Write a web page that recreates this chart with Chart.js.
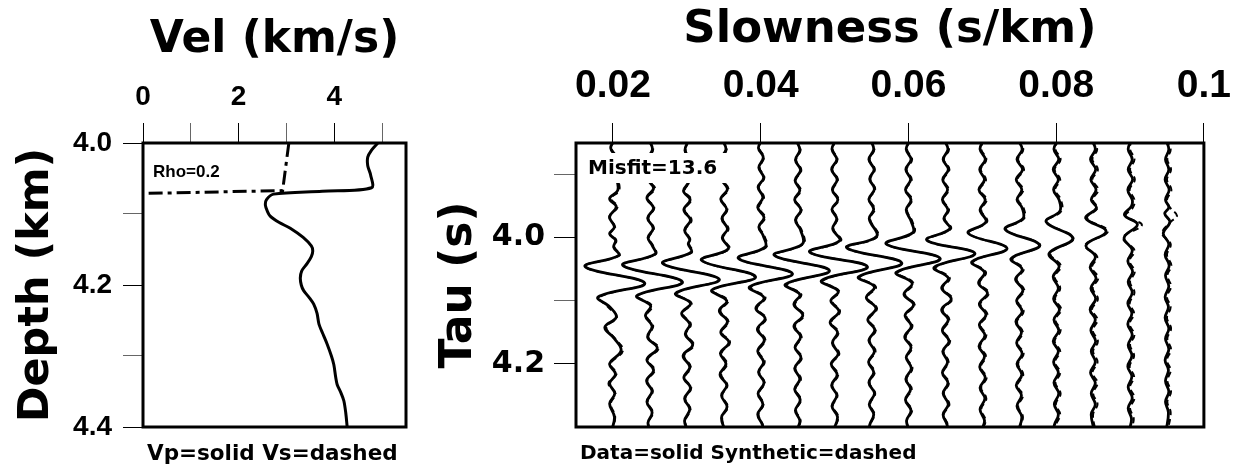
<!DOCTYPE html>
<html lang="en">
<head>
  <meta charset="UTF-8">
  <title>Velocity model and tau-p fit</title>
  <script src="https://cdn.jsdelivr.net/npm/chart.js"></script>
  <style>
    body {
      margin: 0;
      padding: 0;
      background-color: #ffffff;
    }
    .wrap {
      position: relative;
      width: 1244px;
      height: 466px;
    }
    canvas {
      position: absolute;
      top: 0;
    }
  </style>
</head>
<body>
  <div class="wrap">
    <canvas id="velChart" width="430" height="466" style="left:0"></canvas>
    <canvas id="tauChart" width="814" height="466" style="left:430px"></canvas>
  </div>

  <script>
    // ---- left panel: velocity profile ----
    const vpDepth = [4.000, 4.010, 4.020, 4.032, 4.045, 4.063, 4.068, 4.072, 4.080, 4.088, 4.096, 4.103, 4.112, 4.120, 4.133, 4.145, 4.152, 4.160, 4.170, 4.180, 4.190, 4.200, 4.208, 4.218, 4.227, 4.240, 4.255, 4.270, 4.283, 4.300, 4.312, 4.330, 4.340, 4.352, 4.363, 4.380, 4.400];
    const vpVel   = [4.91, 4.78, 4.70, 4.70, 4.76, 4.78, 3.75, 2.73, 2.58, 2.56, 2.60, 2.66, 2.85, 3.08, 3.35, 3.52, 3.55, 3.52, 3.43, 3.32, 3.29, 3.31, 3.36, 3.48, 3.57, 3.64, 3.68, 3.77, 3.85, 3.94, 3.99, 4.03, 4.06, 4.14, 4.20, 4.24, 4.27];
    const vsDepth = [4.000, 4.067, 4.071];
    const vsVel   = [3.05, 2.92, 0.08];

    const velTicks = [0, 1, 2, 3, 4, 5];
    const velLabels = ['0', '', '2', '', '4', ''];
    const depthTicks = [4.0, 4.1, 4.2, 4.3, 4.4];
    const depthLabels = ['4.0', '', '4.2', '', '4.4'];

    // ---- right panel: tau-p wiggles, [tau (s), amplitude] ----
    // amplitude: 100 = one trace spacing
    const slowness = [0.020, 0.025, 0.030, 0.035, 0.040, 0.045, 0.050, 0.055, 0.060, 0.065, 0.070, 0.075, 0.080, 0.085, 0.090, 0.095];
    const slowTicks = [0.02, 0.04, 0.06, 0.08, 0.1];
    const slowLabels = ['0.02', '0.04', '0.06', '0.08', '0.1'];
    const tauTicks = [3.9, 4.0, 4.1, 4.2];
    const tauLabels = ['', '4.0', '', '4.2'];

    const data1 = [[3.845,4],[3.858,-6],[3.874,8],[3.89,-5],[3.906,9],[3.925,13],[3.938,-9],[3.951,9],[3.967,-9],[3.983,4],[3.994,-9],[4.004,7],[4.015,2],[4.028,16],[4.046,-75],[4.072,86],[4.094,-40],[4.11,-8],[4.126,9],[4.142,-22],[4.16,4],[4.179,22],[4.2,-9],[4.216,7],[4.231,-9],[4.247,5],[4.263,-9],[4.284,4],[4.305,-3]];
    const data2 = [[3.845,-3],[3.86,7],[3.876,-6],[3.892,8],[3.908,-4],[3.922,10],[3.937,-8],[3.953,10],[3.969,-6],[3.985,9],[4.0,-5],[4.012,6],[4.026,14],[4.044,-73],[4.07,88],[4.092,-35],[4.108,2],[4.124,-12],[4.14,6],[4.158,-6],[4.175,20],[4.193,-8],[4.21,10],[4.227,-9],[4.243,6],[4.26,-8],[4.277,6],[4.293,-5],[4.305,0]];
    const data3 = [[3.845,5],[3.862,-5],[3.878,7],[3.893,-7],[3.91,6],[3.926,-9],[3.94,9],[3.956,-8],[3.972,10],[3.988,-6],[4.003,8],[4.01,4],[4.023,12],[4.041,-65],[4.066,88],[4.088,-30],[4.104,10],[4.12,-14],[4.137,8],[4.153,-4],[4.17,16],[4.187,-10],[4.205,8],[4.222,-8],[4.238,10],[4.255,-6],[4.272,8],[4.29,-6],[4.305,2]];
    const data4 = [[3.845,-4],[3.86,6],[3.876,-8],[3.892,5],[3.907,-6],[3.923,10],[3.939,-8],[3.955,8],[3.97,-5],[3.986,10],[4.0,-4],[4.018,12],[4.036,-60],[4.062,86],[4.083,-32],[4.1,8],[4.116,-12],[4.133,10],[4.15,-8],[4.166,14],[4.183,-9],[4.2,6],[4.217,-10],[4.234,8],[4.25,-6],[4.268,9],[4.285,-6],[4.305,3]];
    const data5 = [[3.845,3],[3.858,-6],[3.873,7],[3.889,-5],[3.905,8],[3.92,-7],[3.936,6],[3.952,-8],[3.968,9],[3.983,-5],[3.997,7],[4.015,12],[4.033,-60],[4.057,86],[4.078,-30],[4.095,9],[4.112,-13],[4.128,12],[4.145,-9],[4.162,10],[4.18,-8],[4.197,8],[4.213,-6],[4.23,9],[4.247,-7],[4.264,6],[4.28,-8],[4.297,5],[4.305,3]];
    const data6 = [[3.845,-5],[3.861,6],[3.877,-6],[3.893,8],[3.909,-7],[3.925,6],[3.94,-8],[3.956,9],[3.972,-6],[3.988,8],[4.01,13],[4.028,-63],[4.052,86],[4.074,-33],[4.09,6],[4.106,-10],[4.123,14],[4.14,-10],[4.157,8],[4.174,-7],[4.19,9],[4.207,-8],[4.224,6],[4.24,-8],[4.257,7],[4.274,-6],[4.29,6],[4.305,-2]];
    const data7 = [[3.845,4],[3.86,-7],[3.876,6],[3.892,-8],[3.908,7],[3.924,-6],[3.94,9],[3.955,-7],[3.97,6],[3.986,-5],[4.005,14],[4.023,-67],[4.046,89],[4.068,-35],[4.085,10],[4.1,-10],[4.117,12],[4.134,-12],[4.15,8],[4.167,-6],[4.184,10],[4.2,-9],[4.217,7],[4.234,-8],[4.25,6],[4.267,-7],[4.284,8],[4.305,-3]];
    const data8 = [[3.845,-3],[3.86,6],[3.876,-7],[3.892,7],[3.907,-5],[3.923,8],[3.939,-7],[3.955,6],[3.97,-6],[3.998,14],[4.016,-67],[4.04,82],[4.062,-35],[4.078,8],[4.095,-14],[4.112,12],[4.13,-10],[4.146,9],[4.163,-7],[4.18,8],[4.197,-8],[4.213,6],[4.23,-7],[4.247,8],[4.264,-6],[4.28,6],[4.297,-5],[4.305,-3]];
    const data9 = [[3.845,5],[3.86,-6],[3.876,7],[3.892,-7],[3.908,6],[3.924,-8],[3.94,7],[3.956,-6],[3.975,8],[3.992,12],[4.01,-60],[4.033,86],[4.055,-33],[4.072,10],[4.09,-12],[4.106,14],[4.123,-9],[4.14,8],[4.157,-10],[4.174,7],[4.19,-6],[4.207,8],[4.224,-7],[4.24,6],[4.257,-8],[4.274,7],[4.29,-5],[4.305,2]];
    const data10 = [[3.845,-4],[3.86,7],[3.876,-6],[3.892,8],[3.908,-7],[3.924,6],[3.94,-8],[3.956,7],[3.97,-4],[3.986,12],[4.004,-50],[4.025,80],[4.047,-30],[4.064,8],[4.08,-10],[4.097,16],[4.114,-10],[4.13,8],[4.147,-8],[4.164,10],[4.18,-7],[4.197,6],[4.214,-8],[4.23,7],[4.247,-6],[4.264,8],[4.28,-6],[4.297,5],[4.305,3]];
    const data11 = [[3.845,3],[3.86,-6],[3.876,8],[3.892,-7],[3.908,6],[3.924,-9],[3.94,8],[3.956,-6],[3.975,10],[3.993,-38],[4.017,67],[4.038,-28],[4.055,6],[4.072,-10],[4.088,14],[4.105,-8],[4.122,10],[4.138,-8],[4.155,7],[4.172,-9],[4.188,6],[4.205,-7],[4.222,8],[4.238,-6],[4.255,7],[4.272,-6],[4.29,6],[4.305,-2]];
    const data12 = [[3.845,-4],[3.86,8],[3.876,-6],[3.892,9],[3.908,-8],[3.924,7],[3.94,-6],[3.953,8],[3.97,10],[3.987,-38],[4.012,55],[4.033,-22],[4.05,8],[4.066,-10],[4.083,10],[4.1,-7],[4.117,8],[4.133,-9],[4.15,6],[4.167,-7],[4.184,8],[4.2,-6],[4.217,7],[4.234,-8],[4.25,6],[4.267,-6],[4.284,7],[4.305,-2]];
    const data13 = [[3.845,5],[3.86,-6],[3.876,7],[3.892,-8],[3.908,6],[3.924,-7],[3.94,8],[3.958,10],[3.975,-27],[4.001,45],[4.025,-19],[4.045,8],[4.062,-8],[4.08,6],[4.097,-7],[4.114,9],[4.13,-6],[4.147,7],[4.164,-8],[4.18,6],[4.197,-7],[4.214,6],[4.23,-6],[4.247,7],[4.264,-5],[4.28,6],[4.297,-5],[4.305,-3]];
    const data14 = [[3.845,-4],[3.86,6],[3.876,-7],[3.892,7],[3.908,-6],[3.924,8],[3.94,-5],[3.953,9],[3.969,-20],[3.99,35],[4.012,-19],[4.03,6],[4.047,-8],[4.064,8],[4.08,-6],[4.097,7],[4.114,-8],[4.13,6],[4.147,-6],[4.164,7],[4.18,-5],[4.197,6],[4.214,-7],[4.23,6],[4.247,-5],[4.264,6],[4.28,-5],[4.305,3]];
    const data15 = [[3.845,4],[3.86,-5],[3.876,6],[3.892,-5],[3.908,7],[3.924,-6],[3.94,6],[3.95,4],[3.964,-15],[3.979,20],[4.0,-16],[4.02,6],[4.037,-6],[4.054,7],[4.07,-5],[4.087,6],[4.104,-6],[4.12,5],[4.137,-6],[4.154,6],[4.17,-5],[4.187,5],[4.204,-6],[4.22,5],[4.237,-5],[4.254,6],[4.27,-5],[4.287,4],[4.305,-2]];
    const data16 = [[3.845,-3],[3.86,5],[3.876,-4],[3.892,5],[3.908,-5],[3.924,6],[3.94,-4],[3.952,5],[3.962,-6],[3.975,8],[3.993,-10],[4.01,5],[4.027,-5],[4.044,6],[4.06,-4],[4.077,5],[4.094,-5],[4.11,4],[4.127,-5],[4.144,5],[4.16,-4],[4.177,5],[4.194,-5],[4.21,4],[4.227,-4],[4.244,5],[4.26,-4],[4.277,4],[4.305,-2]];

    const synth1 = [[3.845,4],[3.858,-4],[3.874,10],[3.89,-7],[3.906,11],[3.925,17],[3.938,-5],[3.951,13],[3.967,-10],[3.983,6],[3.994,-8],[4.004,9],[4.015,4],[4.028,18],[4.046,-75],[4.072,84],[4.094,-36],[4.11,-13],[4.126,11],[4.142,-18],[4.16,6],[4.179,27],[4.2,-6],[4.216,10],[4.231,-12],[4.247,7],[4.263,-6],[4.284,6],[4.305,-3]];
    const synth2 = [[3.845,-3],[3.86,9],[3.876,-3],[3.892,11],[3.908,-4],[3.922,14],[3.937,-6],[3.953,12],[3.969,-4],[3.985,11],[4.0,-3],[4.012,8],[4.026,16],[4.044,-72],[4.07,86],[4.092,-33],[4.108,6],[4.124,-9],[4.14,9],[4.158,-4],[4.175,24],[4.193,-6],[4.21,13],[4.227,-7],[4.243,8],[4.26,-6],[4.277,8],[4.293,-4],[4.305,0]];
    const synth3 = [[3.845,5],[3.862,-3],[3.878,9],[3.893,-5],[3.91,8],[3.926,-6],[3.94,12],[3.956,-6],[3.972,13],[3.988,-4],[4.003,10],[4.01,6],[4.023,15],[4.041,-64],[4.066,86],[4.088,-27],[4.104,13],[4.12,-11],[4.137,11],[4.153,-2],[4.17,19],[4.187,-7],[4.205,11],[4.222,-6],[4.238,12],[4.255,-4],[4.272,10],[4.29,-4],[4.305,2]];
    const synth4 = [[3.845,-4],[3.86,8],[3.876,-6],[3.892,7],[3.907,-4],[3.923,13],[3.939,-6],[3.955,10],[3.97,-3],[3.986,13],[4.0,-2],[4.018,15],[4.036,-59],[4.062,84],[4.083,-29],[4.1,12],[4.116,-9],[4.133,13],[4.15,-5],[4.166,17],[4.183,-6],[4.2,9],[4.217,-7],[4.234,10],[4.25,-4],[4.268,11],[4.285,-4],[4.305,3]];
    const synth5 = [[3.845,3],[3.858,-4],[3.873,9],[3.889,-3],[3.905,10],[3.92,-5],[3.936,9],[3.952,-5],[3.968,12],[3.983,-3],[3.997,10],[4.015,15],[4.033,-59],[4.057,84],[4.078,-26],[4.095,13],[4.112,-10],[4.128,15],[4.145,-6],[4.162,13],[4.18,-5],[4.197,11],[4.213,-4],[4.23,11],[4.247,-5],[4.264,8],[4.28,-6],[4.297,6],[4.305,3]];
    const synth6 = [[3.845,-5],[3.861,8],[3.877,-4],[3.893,10],[3.909,-5],[3.925,9],[3.94,-6],[3.956,11],[3.972,-4],[3.988,11],[4.01,16],[4.028,-62],[4.052,84],[4.074,-29],[4.09,10],[4.106,-7],[4.123,17],[4.14,-7],[4.157,11],[4.174,-5],[4.19,12],[4.207,-6],[4.224,9],[4.24,-6],[4.257,9],[4.274,-4],[4.29,8],[4.305,-2]];
    const synth7 = [[3.845,4],[3.86,-5],[3.876,8],[3.892,-6],[3.908,9],[3.924,-4],[3.94,11],[3.955,-5],[3.97,8],[3.986,-3],[4.005,17],[4.023,-66],[4.046,87],[4.068,-31],[4.085,13],[4.1,-7],[4.117,15],[4.134,-9],[4.15,11],[4.167,-4],[4.184,13],[4.2,-7],[4.217,10],[4.234,-6],[4.25,8],[4.267,-5],[4.284,10],[4.305,-3]];
    const synth8 = [[3.845,-3],[3.86,8],[3.876,-5],[3.892,9],[3.907,-3],[3.923,10],[3.939,-5],[3.955,9],[3.97,-4],[3.998,17],[4.016,-66],[4.04,80],[4.062,-31],[4.078,12],[4.095,-11],[4.112,15],[4.13,-7],[4.146,12],[4.163,-5],[4.18,11],[4.197,-6],[4.213,9],[4.23,-5],[4.247,10],[4.264,-4],[4.28,8],[4.297,-4],[4.305,-3]];
    const synth9 = [[3.845,5],[3.86,-4],[3.876,10],[3.892,-5],[3.908,9],[3.924,-6],[3.94,10],[3.956,-4],[3.975,11],[3.992,15],[4.01,-59],[4.033,84],[4.055,-29],[4.072,14],[4.09,-9],[4.106,17],[4.123,-6],[4.14,11],[4.157,-7],[4.174,10],[4.19,-4],[4.207,11],[4.224,-5],[4.24,9],[4.257,-6],[4.274,10],[4.29,-4],[4.305,2]];
    const synth10 = [[3.845,-4],[3.86,10],[3.876,-4],[3.892,11],[3.908,-5],[3.924,9],[3.94,-6],[3.956,10],[3.97,-2],[3.986,15],[4.004,-49],[4.025,78],[4.047,-26],[4.064,12],[4.08,-7],[4.097,19],[4.114,-7],[4.13,11],[4.147,-5],[4.164,13],[4.18,-5],[4.197,9],[4.214,-6],[4.23,10],[4.247,-4],[4.264,11],[4.28,-4],[4.297,7],[4.305,3]];
    const synth11 = [[3.845,3],[3.86,-3],[3.876,11],[3.892,-4],[3.908,10],[3.924,-6],[3.94,12],[3.956,-3],[3.975,13],[3.993,-36],[4.017,66],[4.038,-24],[4.055,10],[4.072,-7],[4.088,18],[4.105,-5],[4.122,14],[4.138,-5],[4.155,11],[4.172,-6],[4.188,10],[4.205,-4],[4.222,12],[4.238,-3],[4.255,11],[4.272,-3],[4.29,9],[4.305,-2]];
    const synth12 = [[3.845,-4],[3.86,11],[3.876,-3],[3.892,13],[3.908,-5],[3.924,11],[3.94,-3],[3.953,12],[3.97,13],[3.987,-36],[4.012,57],[4.033,-18],[4.05,12],[4.066,-7],[4.083,14],[4.1,-4],[4.117,12],[4.133,-6],[4.15,10],[4.167,-4],[4.184,12],[4.2,-3],[4.217,11],[4.234,-5],[4.25,10],[4.267,-3],[4.284,10],[4.305,-2]];
    const synth13 = [[3.845,5],[3.86,-2],[3.876,12],[3.892,-4],[3.908,11],[3.924,-3],[3.94,13],[3.958,14],[3.975,-26],[4.001,47],[4.025,-15],[4.045,13],[4.062,-4],[4.08,11],[4.097,-3],[4.114,14],[4.13,-2],[4.147,12],[4.164,-4],[4.18,11],[4.197,-3],[4.214,11],[4.23,-2],[4.247,12],[4.264,-1],[4.28,11],[4.297,-1],[4.305,-1]];
    const synth14 = [[3.845,-4],[3.86,11],[3.876,-2],[3.892,13],[3.908,-2],[3.924,14],[3.94,-1],[3.953,12],[3.969,-16],[3.99,40],[4.012,-22],[4.03,11],[4.047,-3],[4.064,14],[4.08,-1],[4.097,13],[4.114,-3],[4.13,12],[4.147,-1],[4.164,13],[4.18,0],[4.197,12],[4.214,-2],[4.23,12],[4.247,0],[4.264,12],[4.28,0],[4.305,6]];
    const synth15 = [[3.845,4],[3.86,0],[3.876,12],[3.892,0],[3.908,13],[3.924,-1],[3.94,12],[3.952,8],[3.966,-12],[3.98,32],[4.0,-19],[4.02,12],[4.037,-1],[4.054,13],[4.07,0],[4.087,12],[4.104,-1],[4.12,11],[4.137,-1],[4.154,12],[4.17,0],[4.187,11],[4.204,-1],[4.22,11],[4.237,0],[4.254,12],[4.27,0],[4.287,10],[4.305,2]];
    const synth16 = [[3.845,-3],[3.86,10],[3.876,1],[3.892,11],[3.908,0],[3.924,12],[3.94,0],[3.952,8],[3.965,27],[3.975,10],[3.993,-13],[4.01,10],[4.027,0],[4.044,12],[4.06,1],[4.077,11],[4.094,0],[4.11,10],[4.127,0],[4.144,11],[4.16,1],[4.177,11],[4.194,0],[4.21,10],[4.227,1],[4.244,11],[4.26,1],[4.277,10],[4.305,2]];

    const dataTraces = [data1, data2, data3, data4, data5, data6, data7, data8, data9, data10, data11, data12, data13, data14, data15, data16];
    const synthTraces = [synth1, synth2, synth3, synth4, synth5, synth6, synth7, synth8, synth9, synth10, synth11, synth12, synth13, synth14, synth15, synth16];

    const traceGain = 0.005 / 100; // amplitude 100 -> one trace spacing

    // draws the box round the plot area and the loose text
    const frameNotes = {
      id: 'frameNotes',
      afterDatasetsDraw(chart, args, opts) {
        const ctx = chart.ctx;
        const a = chart.chartArea;
        ctx.save();
        if (opts.blank) {
          ctx.fillStyle = '#ffffff';
          ctx.fillRect(a.left + opts.blank.dx, a.top + opts.blank.dy, opts.blank.w, opts.blank.h);
        }
        ctx.fillStyle = '#000000';
        ctx.textBaseline = 'middle';
        ctx.textAlign = 'left';
        (opts.notes || []).forEach(n => {
          ctx.font = n.font;
          const y = n.fromBottom ? a.bottom + n.dy : a.top + n.dy;
          ctx.fillText(n.text, a.left + n.dx, y);
        });
        ctx.lineWidth = 3;
        ctx.strokeStyle = '#000000';
        ctx.strokeRect(a.left, a.top, a.right - a.left, a.bottom - a.top);
        ctx.restore();
      }
    };

    const tickFont = { family: "'Liberation Sans', Arial, sans-serif", weight: 'bold' };
    const titleFont = { family: "'DejaVu Sans', sans-serif", weight: 'bold' };

    // ---------- left chart ----------
    new Chart(document.getElementById('velChart'), {
      type: 'scatter',
      data: {
        datasets: [
          {
            label: 'Vp',
            data: vpDepth.map((d, i) => ({ x: vpVel[i], y: d })),
            showLine: true,
            borderColor: '#000',
            borderWidth: 3,
            tension: 0.3,
            pointRadius: 0
          },
          {
            label: 'Vs',
            data: vsDepth.map((d, i) => ({ x: vsVel[i], y: d })),
            showLine: true,
            borderColor: '#000',
            borderWidth: 3,
            borderDash: [14, 5, 4, 5],
            tension: 0,
            pointRadius: 0
          }
        ]
      },
      options: {
        responsive: false,
        animation: false,
        devicePixelRatio: 1,
        layout: { padding: { top: 0, left: 0, right: 24, bottom: 39 } },
        plugins: {
          legend: { display: false },
          tooltip: { enabled: false },
          frameNotes: {
            notes: [
              { text: 'Rho=0.2', font: "bold 17px 'Liberation Sans', Arial", dx: 10, dy: 29 },
              { text: 'Vp=solid Vs=dashed', font: "bold 21.5px 'DejaVu Sans'", dx: 4, dy: 27, fromBottom: true }
            ]
          }
        },
        scales: {
          x: {
            type: 'linear',
            position: 'top',
            min: 0,
            max: 5.5,
            afterBuildTicks: s => { s.ticks = velTicks.map(v => ({ value: v })); },
            afterFit: s => { s.height = 143; },
            ticks: {
              callback: (v, i) => velLabels[i],
              color: '#000',
              font: { ...tickFont, size: 28 },
              padding: 9,
              maxRotation: 0
            },
            grid: {
              drawOnChartArea: false,
              tickLength: 20,
              tickColor: c => velLabels[c.index] ? '#000' : '#666',
              tickWidth: 1
            },
            border: { display: false },
            title: {
              display: true,
              text: 'Vel (km/s)',
              color: '#000',
              font: { ...titleFont, size: 44 },
              padding: { top: 14, bottom: 0 }
            }
          },
          y: {
            type: 'linear',
            reverse: true,
            min: 4.0,
            max: 4.4,
            afterBuildTicks: s => { s.ticks = depthTicks.map(v => ({ value: v })); },
            afterFit: s => { s.width = 143; },
            ticks: {
              callback: (v, i) => depthLabels[i],
              color: '#000',
              font: { ...tickFont, size: 28 },
              padding: 11
            },
            grid: {
              drawOnChartArea: false,
              tickLength: 20,
              tickColor: c => depthLabels[c.index] ? '#000' : '#666',
              tickWidth: 1
            },
            border: { display: false },
            title: {
              display: true,
              text: 'Depth (km)',
              color: '#000',
              font: { ...titleFont, size: 43 },
              padding: { top: 11, bottom: 0 }
            }
          }
        }
      },
      plugins: [frameNotes]
    });

    // ---------- right chart ----------
    const tauSets = [];
    dataTraces.forEach((tr, i) => {
      tauSets.push({
        label: 'data ' + slowness[i],
        data: tr.map(([t, a]) => ({ x: slowness[i] + a * traceGain, y: t })),
        showLine: true,
        borderColor: '#000',
        borderWidth: 2.8,
        tension: 0.4,
        pointRadius: 0,
        clip: 0,
        order: 0
      });
    });
    synthTraces.forEach((tr, i) => {
      tauSets.push({
        label: 'synthetic ' + slowness[i],
        data: tr.map(([t, a]) => ({ x: slowness[i] + a * traceGain, y: t })),
        showLine: true,
        borderColor: '#000',
        borderWidth: 2,
        borderDash: [6, 4],
        tension: 0.4,
        pointRadius: 0,
        clip: 0,
        order: 1
      });
    });

    new Chart(document.getElementById('tauChart'), {
      type: 'scatter',
      data: { datasets: tauSets },
      options: {
        responsive: false,
        animation: false,
        devicePixelRatio: 1,
        layout: { padding: { top: 0, left: 0, right: 36, bottom: 39 } },
        plugins: {
          legend: { display: false },
          tooltip: { enabled: false },
          frameNotes: {
            blank: { dx: 2, dy: 10, w: 158, h: 30 },
            notes: [
              { text: 'Misfit=13.6', font: "bold 20px 'DejaVu Sans'", dx: 12, dy: 26 },
              { text: 'Data=solid Synthetic=dashed', font: "bold 20px 'DejaVu Sans'", dx: 4, dy: 27, fromBottom: true }
            ]
          }
        },
        scales: {
          x: {
            type: 'linear',
            position: 'top',
            min: 0.015,
            max: 0.1,
            afterBuildTicks: s => { s.ticks = slowTicks.map(v => ({ value: v })); },
            afterFit: s => { s.height = 143; },
            ticks: {
              callback: (v, i) => slowLabels[i],
              color: '#000',
              font: { ...tickFont, size: 39 },
              padding: 13,
              maxRotation: 0
            },
            grid: {
              drawOnChartArea: false,
              tickLength: 20,
              tickColor: '#000',
              tickWidth: 1
            },
            border: { display: false },
            title: {
              display: true,
              text: 'Slowness (s/km)',
              color: '#000',
              font: { ...titleFont, size: 45 },
              padding: { top: 3, bottom: 0 }
            }
          },
          y: {
            type: 'linear',
            reverse: true,
            min: 3.85,
            max: 4.30,
            afterBuildTicks: s => { s.ticks = tauTicks.map(v => ({ value: v })); },
            afterFit: s => { s.width = 146; },
            ticks: {
              callback: (v, i) => tauLabels[i],
              color: '#000',
              font: { family: "'DejaVu Sans', sans-serif", weight: 'bold', size: 30 },
              padding: 9
            },
            grid: {
              drawOnChartArea: false,
              tickLength: 22,
              tickColor: c => tauLabels[c.index] ? '#000' : '#666',
              tickWidth: 1
            },
            border: { display: false },
            title: {
              display: true,
              text: 'Tau (s)',
              color: '#000',
              font: { ...titleFont, size: 44 },
              padding: { top: 3, bottom: 0 }
            }
          }
        }
      },
      plugins: [frameNotes]
    });
  </script>
</body>
</html>
